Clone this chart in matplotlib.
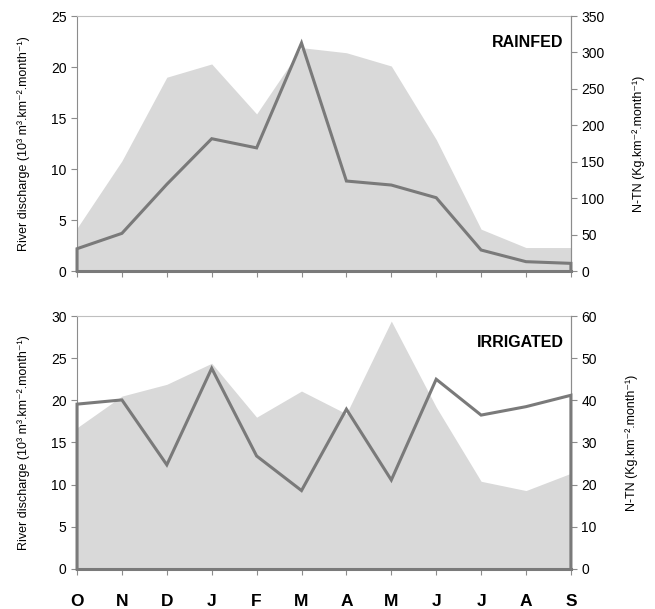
import matplotlib
matplotlib.use("Agg")
import matplotlib.pyplot as plt
import numpy as np

plt.rcParams['font.family'] = ['Liberation Sans', 'DejaVu Sans']

months = ['O', 'N', 'D', 'J', 'F', 'M', 'A', 'M', 'J', 'J', 'A', 'S']

# Rainfed
rain_discharge = [4.2, 10.8, 19.0, 20.3, 15.4, 21.9, 21.4, 20.1, 12.9, 4.1, 2.3, 2.3]
rain_ntn = [30.6, 51.7, 119, 181.6, 169, 313, 123.5, 118, 100.6, 28.8, 12.8, 10.5]

# Irrigated
irr_discharge = [16.75, 20.5, 21.9, 24.4, 18.0, 21.1, 18.4, 29.4, 19.2, 10.4, 9.3, 11.35]
irr_ntn = [39.1, 40.1, 24.7, 47.6, 26.8, 18.6, 37.9, 21.1, 45.0, 36.5, 38.5, 41.2]

AREA = '#d9d9d9'
LINE = '#7a7a7a'
SPINE = '#8c8c8c'

fig = plt.figure(figsize=(6.55, 6.09), dpi=100)
ylab_l = "River discharge (10³ m³.km⁻².month⁻¹)"
ylab_r = "N-TN (Kg.km⁻².month⁻¹)"

def panel(rect, disc, ntn, lmax, lstep, rmax, rstep, title, show_x):
    ax = fig.add_axes(rect)
    x = np.arange(len(months))
    ax.fill_between(x, 0, disc, color=AREA, lw=0, zorder=1)
    ax.set_xlim(0, len(months) - 1)
    ax.set_ylim(0, lmax)
    ax.set_yticks(np.arange(0, lmax + 0.1, lstep))
    ax.set_xticks(x)
    if show_x:
        ax.set_xticklabels(months, fontsize=12.5, fontweight='bold')
    else:
        ax.set_xticklabels([])
    ax.tick_params(axis='x', direction='out', length=4, color=SPINE, pad=14)
    ax.tick_params(axis='y', direction='out', length=4, color=SPINE, labelsize=10)
    for s in ax.spines.values():
        s.set_color(SPINE)
        s.set_linewidth(0.8)
    ax.spines['top'].set_color('#bfbfbf')
    ax.set_ylabel(ylab_l, fontsize=9, labelpad=15)
    ax2 = ax.twinx()
    ax2.set_ylim(0, rmax)
    ax2.set_yticks(np.arange(0, rmax + 0.1, rstep))
    ax2.tick_params(axis='y', direction='out', length=4, color=SPINE, labelsize=10)
    for s in ax2.spines.values():
        s.set_visible(False)
    ax2.spines['right'].set_visible(True)
    ax2.spines['right'].set_color(SPINE)
    ax2.spines['right'].set_linewidth(0.8)
    xs = np.concatenate([[x[0]], x, [x[-1]]])
    ys = np.concatenate([[0], ntn, [0]])
    ax2.plot(xs, ys, color=LINE, lw=2.2, solid_joinstyle='miter', clip_on=False, zorder=3)
    ax2.plot([x[0], x[-1]], [0, 0], color=LINE, lw=2.2, clip_on=False, zorder=3)
    ax2.set_ylabel(ylab_r, fontsize=9, labelpad=20)
    ax.text(0.985, 0.895, title, transform=ax.transAxes, ha='right', va='center',
            fontsize=11.5, fontweight='bold')
    return ax, ax2

panel([0.1176, 0.555, 0.754, 0.4187], rain_discharge, rain_ntn, 25, 5, 350, 50, 'RAINFED', False)
panel([0.1176, 0.0657, 0.754, 0.4154], irr_discharge, irr_ntn, 30, 5, 60, 10, 'IRRIGATED', True)

fig.savefig('out.png', dpi=100)
